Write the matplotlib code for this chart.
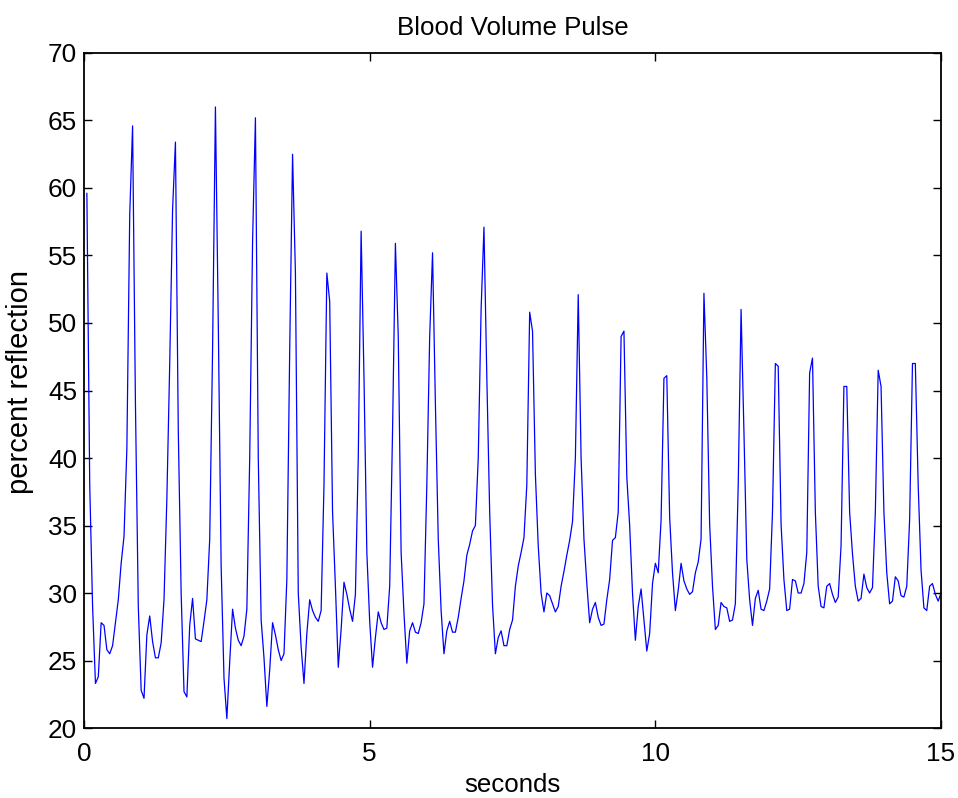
import numpy as np
import matplotlib
matplotlib.use("Agg")
import matplotlib.pyplot as plt

plt.rcParams['font.family'] = ['Liberation Sans', 'DejaVu Sans']

# Blood volume pulse samples (percent reflection), sampled at 20 Hz,
# first sample at 1/20 s
sample_rate_hz = 20

bvp_0_5s = [
    59.6, 38, 29, 23.3, 23.8, 27.8, 27.6, 25.8, 25.5, 26.1,
    27.8, 29.5, 32.2, 34.2, 40.7, 58, 64.6, 44, 29, 22.8,
    22.2, 26.9, 28.3, 26.4, 25.2, 25.2, 26.3, 29.5, 37, 47,
    58.4, 63.4, 42, 30, 22.7, 22.3, 27.6, 29.6, 26.6, 26.5,
    26.4, 27.9, 29.5, 34, 48, 66.0, 50, 32, 23.7, 20.7,
    24.9, 28.8, 27.4, 26.5, 26.1, 26.8, 28.8, 40, 56, 65.2,
    40, 28, 25.2, 21.6, 24.3, 27.8, 26.9, 25.8, 25.0, 25.5,
    31, 48, 62.5, 53.7, 30, 26, 23.3, 27.0, 29.5, 28.7,
    28.2, 27.9, 28.7, 38, 53.7, 51.6, 36, 30.5, 24.5, 27.3,
    30.8, 29.9, 28.8, 27.9, 29.9, 40, 56.8, 46, 33, 27.9,
]

bvp_5_10s = [
    24.5, 26.7, 28.6, 27.8, 27.3, 27.4, 30.5, 42, 55.9, 49,
    33, 28.5, 24.8, 27.2, 27.8, 27.1, 27.0, 27.8, 29.2, 38,
    49, 55.2, 44, 34, 28.7, 25.5, 27.2, 27.9, 27.1, 27.1,
    28.2, 29.6, 30.9, 32.8, 33.6, 34.6, 35.0, 40, 51, 57.1,
    46, 36, 29.1, 25.5, 26.7, 27.2, 26.1, 26.1, 27.3, 28.0,
    30.5, 32.0, 33.0, 34.1, 38, 50.8, 49.4, 38.8, 33.5, 30.0,
    28.6, 30.0, 29.8, 29.2, 28.6, 29.0, 30.5, 31.6, 32.8, 33.9,
    35.3, 40, 52.1, 40, 34, 30.7, 27.8, 28.8, 29.3, 28.2,
    27.6, 27.7, 29.5, 31.0, 33.9, 34.1, 36, 49.0, 49.4, 38.6,
    35.0, 30.0, 26.5, 29.0, 30.3, 28.0, 25.7, 27.0, 30.7, 32.2,
]

bvp_10_15s = [
    31.5, 35.4, 45.9, 46.1, 35.6, 31.5, 28.7, 30.2, 32.2, 30.9,
    30.3, 29.9, 30.1, 31.5, 32.3, 34.0, 52.2, 46.0, 35.1, 30.5,
    27.3, 27.6, 29.3, 29.0, 28.9, 27.9, 28.0, 29.2, 38, 51.0,
    42, 32.5, 29.5, 27.6, 29.6, 30.2, 28.8, 28.7, 29.4, 30.3,
    36, 47.0, 46.8, 35.1, 31.0, 28.7, 28.8, 31.0, 30.9, 30.0,
    30.0, 30.7, 33.0, 46.3, 47.4, 36.0, 30.5, 29.0, 28.9, 30.5,
    30.7, 29.9, 29.3, 29.7, 33.5, 45.3, 45.3, 36.0, 32.9, 30.5,
    29.4, 29.6, 31.4, 30.4, 30.0, 30.4, 36, 46.5, 45.3, 36,
    31.5, 29.2, 29.4, 31.2, 30.9, 29.8, 29.7, 30.5, 35.4, 47.0,
    47.0, 38, 31.7, 28.9, 28.7, 30.5, 30.7, 29.9, 29.4, 30.0,
]

x_ticks = [0, 5, 10, 15]
y_ticks = [20, 25, 30, 35, 40, 45, 50, 55, 60, 65, 70]

bvp = np.array(bvp_0_5s + bvp_5_10s + bvp_10_15s)
seconds = (np.arange(len(bvp)) + 1) / sample_rate_hz

fig = plt.figure(figsize=(9.58, 7.98), dpi=100)
ax = fig.add_axes([0.0877, 0.0877, 0.9823 - 0.0877, 0.9336 - 0.0877])

ax.plot(seconds, bvp, color='#0000ff', linewidth=0.9)

ax.set_xlim(0, 15)
ax.set_ylim(20, 70)
ax.set_xticks(x_ticks)
ax.set_yticks(y_ticks)
ax.tick_params(direction='in', length=6, width=1, top=True, right=True,
               labelsize=18.8, colors='black')
ax.tick_params(axis='x', pad=10)
ax.tick_params(axis='y', pad=5)
for s in ax.spines.values():
    s.set_linewidth(1.3)
    s.set_color('black')

ax.set_title('Blood Volume Pulse', fontsize=18.6, pad=13)
ax.set_xlabel('seconds', fontsize=18.6, labelpad=5)
ax.set_ylabel('percent reflection', fontsize=21)
ax.yaxis.set_label_coords(-0.058, 0.512)

fig.savefig('out.png', dpi=100, facecolor='white')
